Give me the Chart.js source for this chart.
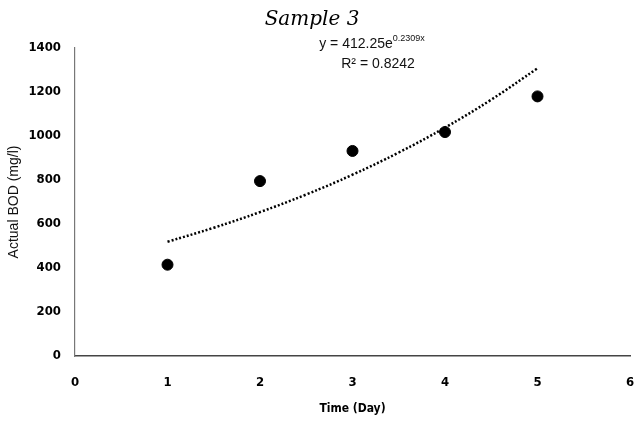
<!DOCTYPE html>
<html>
<head>
<meta charset="utf-8">
<script src="https://cdn.jsdelivr.net/npm/chart.js@4/dist/chart.umd.min.js"></script>
<style>
  html, body { margin: 0; padding: 0; background: #fff; }
  #wrap { width: 638px; height: 427px; }
</style>
</head>
<body>
<div id="wrap"><canvas id="c" width="638" height="427"></canvas></div>
<script>
// Measured BOD by day
const days = [1, 2, 3, 4, 5];
const bodValues = [415, 795, 932, 1018, 1180];

// Exponential trendline y = 412.25 e^(0.2309x), tabulated at half-day steps
const trendDays = [1, 1.5, 2, 2.5, 3, 3.5, 4, 4.5, 5];
const trendValues = [519.3, 582.9, 654.2, 734.3, 824.1, 925.0, 1038.1, 1165.2, 1307.7];

const xTicks = [0, 1, 2, 3, 4, 5, 6];
const yTicks = [0, 200, 400, 600, 800, 1000, 1200, 1400];

const titleText = 'Sample 3';
const eqBase = 'y = 412.25e';
const eqExp = '0.2309x';
const r2Text = 'R² = 0.8242';

const tickFont = { family: '"DejaVu Sans Condensed", "DejaVu Sans", sans-serif', size: 13, weight: 'bold' };
const noteFont = '"Liberation Sans Narrow", "Liberation Sans", sans-serif';

const overlay = {
  id: 'overlay',
  afterDraw(chart) {
    const ctx = chart.ctx;
    ctx.save();
    ctx.fillStyle = '#000';
    ctx.textBaseline = 'alphabetic';
    ctx.textAlign = 'center';
    ctx.font = 'italic 20px "DejaVu Serif", serif';
    ctx.fillText(titleText, 312, 25);

    // trendline equation with superscript exponent
    ctx.fillStyle = '#111';
    ctx.font = '14px ' + noteFont;
    const bw = ctx.measureText(eqBase).width;
    ctx.font = '9px ' + noteFont;
    const ew = ctx.measureText(eqExp).width;
    const x0 = 372 - (bw + ew) / 2;
    ctx.textAlign = 'left';
    ctx.font = '14px ' + noteFont;
    ctx.fillText(eqBase, x0, 48);
    ctx.font = '9px ' + noteFont;
    ctx.fillText(eqExp, x0 + bw, 41);
    ctx.textAlign = 'center';
    ctx.font = '14px ' + noteFont;
    ctx.fillText(r2Text, 378, 68);
    ctx.restore();
  }
};

new Chart(document.getElementById('c'), {
  type: 'scatter',
  data: {
    datasets: [
      {
        label: 'Actual BOD',
        data: days.map((d, i) => ({ x: d, y: bodValues[i] })),
        backgroundColor: '#000',
        borderColor: '#000',
        pointRadius: 5.5,
        pointHoverRadius: 5.5,
        order: 1
      },
      {
        label: 'Expon. trend',
        data: trendDays.map((d, i) => ({ x: d, y: trendValues[i] })),
        showLine: true,
        borderColor: '#000',
        borderWidth: 2.5,
        borderDash: [2, 2],
        pointRadius: 0,
        tension: 0.4,
        order: 2
      }
    ]
  },
  options: {
    responsive: false,
    animation: false,
    events: [],
    layout: { padding: { top: 48, right: 8, left: 0, bottom: 0 } },
    plugins: {
      legend: { display: false },
      tooltip: { enabled: false },
      title: { display: false }
    },
    scales: {
      x: {
        type: 'linear',
        min: 0,
        max: 6,
        afterBuildTicks(scale) { scale.ticks = xTicks.map(v => ({ value: v })); },
        afterFit(scale) {
          scale.height = 71;
          scale.paddingLeft = 0;
          scale.paddingRight = 0;
        },
        grid: { display: false, drawTicks: false },
        border: { display: true, color: '#444', width: 1.5 },
        ticks: { color: '#000', font: tickFont, padding: 19, maxRotation: 0, callback: v => String(v) },
        title: {
          display: true,
          text: 'Time (Day)',
          color: '#000',
          font: { family: '"DejaVu Sans Condensed", "DejaVu Sans", sans-serif', size: 12, weight: 'bold' },
          padding: { top: 4, bottom: 11 }
        }
      },
      y: {
        type: 'linear',
        min: 0,
        max: 1400,
        afterBuildTicks(scale) { scale.ticks = yTicks.map(v => ({ value: v })); },
        afterFit(scale) { scale.width = 75; },
        grid: { display: false, drawTicks: false },
        border: { display: true, color: '#777', width: 1.2 },
        ticks: { color: '#000', font: tickFont, padding: 14, callback: v => String(v) },
        title: {
          display: true,
          text: 'Actual BOD (mg/l)',
          color: '#111',
          font: { family: '"Liberation Sans", Arial, sans-serif', size: 14 },
          padding: { top: 6, bottom: 4 }
        }
      }
    }
  },
  plugins: [overlay]
});
</script>
</body>
</html>
